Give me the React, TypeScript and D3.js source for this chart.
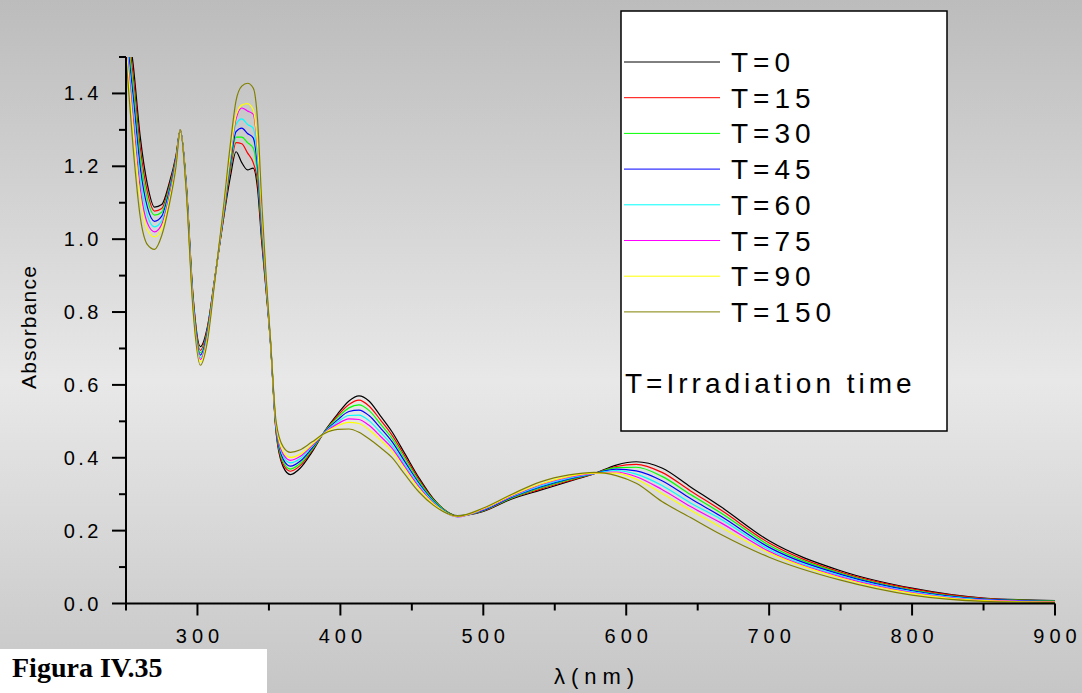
import React from 'react';
import * as d3 from 'd3';

const wavelengths = [250,255,260,265,270,275,280,285,288,292,297,302,307,312,318,323,327,331,335,339,342,345,348,351,355,360,365,372,380,389,398,406,413,420,428,436,445,455,465,482,500,520,540,560,578,593,607,625,645,666,700,750,800,850,900];

const T0 = [1.62,1.48,1.28,1.15,1.088,1.095,1.15,1.23,1.30,1.16,
0.84,0.705,0.76,0.89,1.05,1.17,1.24,1.21,1.19,1.195,
1.14,0.99,0.86,0.72,0.47,0.375,0.354,0.372,0.415,0.473,
0.52,0.556,0.570,0.556,0.515,0.472,0.412,0.345,0.288,0.241,
0.253,0.287,0.311,0.335,0.357,0.380,0.389,0.372,0.320,0.266,
0.172,0.090,0.042,0.015,0.008];

const T15 = [1.604,1.45,1.251,1.129,1.077,1.084,1.142,1.226,1.30,1.157,
0.835,0.695,0.755,0.889,1.054,1.19,1.265,1.262,1.237,1.21,
1.16,1.004,0.865,0.721,0.474,0.382,0.363,0.379,0.419,0.472,
0.515,0.546,0.558,0.542,0.504,0.463,0.405,0.34,0.286,0.240,
0.254,0.289,0.314,0.337,0.357,0.376,0.382,0.36,0.309,0.257,
0.166,0.086,0.040,0.014,0.007];

const T30 = [1.59,1.423,1.225,1.109,1.066,1.074,1.135,1.222,1.30,1.155,
0.83,0.688,0.75,0.888,1.058,1.20,1.28,1.28,1.265,1.25,
1.18,1.018,0.87,0.723,0.478,0.389,0.369,0.385,0.422,0.472,
0.51,0.537,0.545,0.530,0.493,0.454,0.398,0.335,0.284,0.240,
0.255,0.29,0.317,0.34,0.357,0.373,0.374,0.349,0.299,0.249,
0.160,0.083,0.037,0.013,0.007];

const T45 = [1.574,1.393,1.196,1.087,1.049,1.063,1.127,1.219,1.30,1.152,
0.825,0.682,0.745,0.886,1.061,1.21,1.295,1.305,1.29,1.278,
1.20,1.032,0.875,0.724,0.481,0.396,0.377,0.391,0.426,0.471,
0.504,0.527,0.531,0.516,0.482,0.445,0.39,0.33,0.281,0.239,
0.256,0.292,0.32,0.342,0.357,0.369,0.364,0.337,0.288,0.24,
0.154,0.080,0.035,0.012,0.006];

const T60 = [1.558,1.36,1.166,1.064,1.034,1.051,1.119,1.214,1.30,1.15,
0.819,0.675,0.739,0.885,1.066,1.22,1.315,1.33,1.315,1.305,
1.22,1.047,0.881,0.725,0.486,0.404,0.386,0.398,0.430,0.47,
0.498,0.516,0.517,0.502,0.47,0.435,0.382,0.325,0.279,0.238,
0.258,0.294,0.323,0.344,0.357,0.365,0.355,0.324,0.276,0.232,
0.148,0.076,0.032,0.010,0.005];

const T75 = [1.543,1.333,1.139,1.044,1.02,1.041,1.112,1.211,1.30,1.147,
0.814,0.670,0.734,0.884,1.069,1.23,1.33,1.36,1.352,1.343,
1.25,1.06,0.886,0.726,0.489,0.410,0.393,0.404,0.433,0.469,
0.493,0.507,0.505,0.489,0.459,0.427,0.376,0.32,0.276,0.238,
0.259,0.295,0.326,0.347,0.357,0.361,0.348,0.313,0.266,0.222,
0.143,0.073,0.030,0.009,0.005];

const T90 = [1.529,1.305,1.113,1.025,1.006,1.030,1.104,1.207,1.30,1.145,
0.81,0.663,0.73,0.882,1.073,1.235,1.34,1.368,1.372,1.355,
1.26,1.074,0.89,0.728,0.493,0.417,0.401,0.41,0.436,0.468,
0.488,0.497,0.494,0.477,0.449,0.418,0.369,0.315,0.274,0.239,
0.26,0.297,0.328,0.349,0.358,0.358,0.341,0.302,0.256,0.21,
0.139,0.070,0.028,0.008,0.004];

const T150 = [1.50,1.25,1.06,0.985,0.972,1.01,1.09,1.20,1.30,1.14,
0.80,0.654,0.72,0.88,1.08,1.26,1.38,1.42,1.428,1.415,
1.33,1.10,0.90,0.73,0.50,0.43,0.415,0.422,0.443,0.467,
0.478,0.479,0.470,0.452,0.428,0.401,0.355,0.306,0.270,0.240,
0.262,0.300,0.334,0.353,0.360,0.351,0.330,0.280,0.236,0.19,
0.127,0.064,0.023,0.006,0.003];

const seriesLabels = ['T=0','T=15','T=30','T=45','T=60','T=75','T=90','T=150'];
const seriesValues = [T0, T15, T30, T45, T60, T75, T90, T150];
const seriesColors = ['#000000','#ff0000','#00ff00','#0000ff','#00ffff','#ff00ff','#ffff00','#808000'];

const xMajorTicks = [300,400,500,600,700,800,900];
const xMinorTicks = [250,350,450,550,650,750,850];
const yMajorTicks = [0,0.2,0.4,0.6,0.8,1.0,1.2,1.4];
const yMinorTicks = [0.1,0.3,0.5,0.7,0.9,1.1,1.3,1.5];

const W = 1082, H = 693;
const left = 126, right = 1055, top = 57, bottom = 603.5;

export default function App() {
  const x = d3.scaleLinear().domain([250, 900]).range([left, right]);
  const y = d3.scaleLinear().domain([0, 1.5]).range([bottom, top]);
  const line = d3.line<[number, number]>()
    .x(d => x(d[0]))
    .y(d => y(d[1]))
    .curve(d3.curveMonotoneX);
  const font = "'Liberation Sans', Arial, Helvetica, sans-serif";

  return (
    <svg width={W} height={H} style={{ position: 'absolute', left: 0, top: 0 }} xmlns="http://www.w3.org/2000/svg">
      <defs>
        <linearGradient id="bg" x1="0" y1="0" x2="0" y2="1">
          <stop offset="0%" stopColor="#bcbcbc" />
          <stop offset="55%" stopColor="#e8e8e8" />
          <stop offset="100%" stopColor="#c6c6c6" />
        </linearGradient>
        <clipPath id="plot">
          <rect x={left} y={top} width={right - left + 1} height={bottom - top} />
        </clipPath>
      </defs>
      <rect x={0} y={0} width={W} height={H} fill="url(#bg)" />

      <g clipPath="url(#plot)">
        {seriesValues.map((vals, i) => (
          <path key={i}
            d={line(wavelengths.map((w, j) => [w, vals[j]] as [number, number])) || ''}
            fill="none" stroke={seriesColors[i]} strokeWidth={1.2} />
        ))}
      </g>

      {/* axes */}
      <line x1={left} y1={top} x2={left} y2={bottom} stroke="#000" strokeWidth={2} />
      <line x1={left} y1={bottom} x2={right} y2={bottom} stroke="#000" strokeWidth={2} />
      {xMajorTicks.map(t => (
        <g key={'xm' + t}>
          <line x1={x(t)} x2={x(t)} y1={bottom} y2={bottom + 12} stroke="#000" strokeWidth={2} />
          <text x={x(t) + 2.5} y={643} textAnchor="middle" fontFamily={font} fontSize={20} letterSpacing={5} fill="#000">{t}</text>
        </g>
      ))}
      {xMinorTicks.map(t => (
        <line key={'xn' + t} x1={x(t)} x2={x(t)} y1={bottom} y2={bottom + 7} stroke="#000" strokeWidth={2} />
      ))}
      {yMajorTicks.map(t => (
        <g key={'ym' + t}>
          <line x1={left - 14} x2={left} y1={y(t)} y2={y(t)} stroke="#000" strokeWidth={2} />
          <text x={102} y={y(t) + 7} textAnchor="end" fontFamily={font} fontSize={20} letterSpacing={3.5} fill="#000">{t.toFixed(1)}</text>
        </g>
      ))}
      {yMinorTicks.map(t => (
        <line key={'yn' + t} x1={left - 7} x2={left} y1={y(t)} y2={y(t)} stroke="#000" strokeWidth={2} />
      ))}

      <text transform="translate(36,327) rotate(-90)" textAnchor="middle" fontFamily={font} fontSize={21} letterSpacing={1.2} fill="#000">Absorbance</text>
      <text x={597} y={684} textAnchor="middle" fontFamily={font} fontSize={22} letterSpacing={6} fill="#000">λ(nm)</text>

      {/* legend */}
      <rect x={621} y={11} width={326} height={420} fill="#ffffff" stroke="#000" strokeWidth={1.5} />
      {seriesLabels.map((lab, i) => (
        <g key={'lg' + i}>
          <line x1={624} x2={720} y1={62 + i * 35.7} y2={62 + i * 35.7} stroke={seriesColors[i]} strokeWidth={1} />
          <text x={731} y={72 + i * 35.7} fontFamily={font} fontSize={28} letterSpacing={5} fill="#000">{lab}</text>
        </g>
      ))}
      <text x={625} y={393} fontFamily={font} fontSize={28} letterSpacing={4} fill="#000">T=Irradiation time</text>

      {/* caption */}
      <rect x={0} y={649} width={267} height={H - 649} fill="#ffffff" />
      <text x={12} y={677} fontFamily="'Liberation Serif', 'Times New Roman', serif" fontWeight="bold" fontSize={28} fill="#000">Figura IV.35</text>
    </svg>
  );
}
